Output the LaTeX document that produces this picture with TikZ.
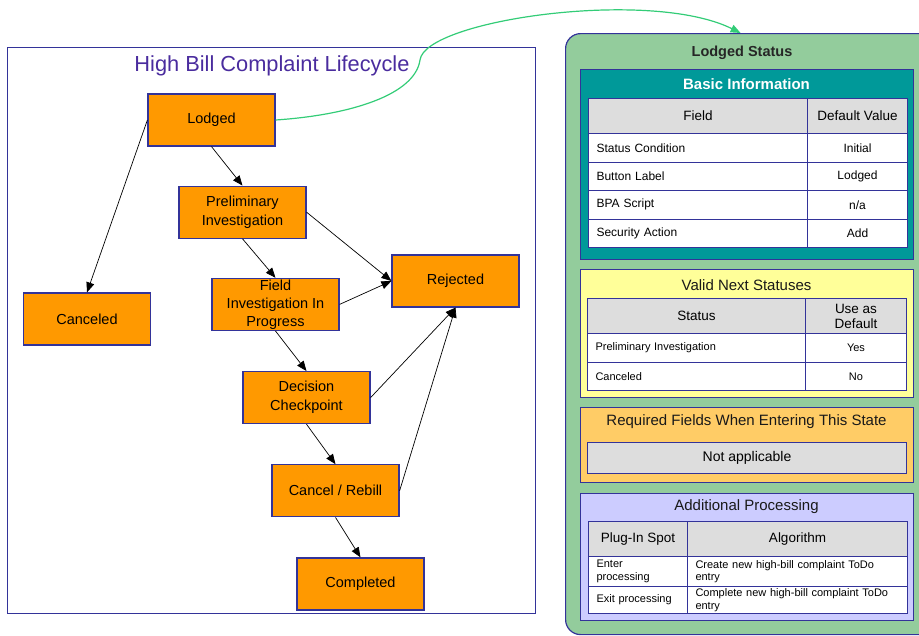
\documentclass[tikz,border=0pt]{standalone}
\usepackage{fontspec}
\setmainfont{Liberation Sans}
\usetikzlibrary{positioning,arrows.meta}

\definecolor{stateorange}{HTML}{FF9900}
\definecolor{navyline}{HTML}{333399}
\definecolor{titleblue}{HTML}{4A2C9E}
\definecolor{panelgreen}{HTML}{93CC9C}
\definecolor{basicteal}{HTML}{009999}
\definecolor{nextyellow}{HTML}{FFFF99}
\definecolor{reqorange}{HTML}{FFCC66}
\definecolor{procblue}{HTML}{CCCCFF}
\definecolor{headgray}{HTML}{DDDDDD}
\definecolor{linkgreen}{HTML}{33CC77}

\newcommand{\fsz}[2]{\fontsize{#1}{#2}\selectfont}

\begin{document}
\begin{tikzpicture}[
		x=1pt, y=-1pt,
		>={Triangle[length=10pt,width=8pt]},
		state/.style={
			draw=navyline,
			line width=1.2pt,
			fill=stateorange,
			minimum width=127pt,
			minimum height=52pt,
			inner sep=0pt,
			align=center,
			font=\fsz{14.5}{19}
		},
		flow/.style={->, line width=0.7pt, black},
		section/.style={draw=navyline, line width=1.2pt, anchor=north west, inner sep=0pt},
		sectitle/.style={font=\fsz{15}{18}, text=black!90},
		hcell/.style={draw=navyline, line width=1pt, fill=headgray, anchor=north west,
			inner sep=0pt, align=center, font=\fsz{13.5}{15}},
		vcell/.style={draw=navyline, line width=1pt, fill=white, anchor=north west,
			inner sep=0pt, align=center, font=\fsz{12}{13}},
		lcell/.style={draw=navyline, line width=1pt, fill=white, anchor=north west,
			inner xsep=8pt, inner ysep=0pt, align=left, font=\fsz{12}{13}, text width=#1}
		]
		
		\useasboundingbox (0,0) rectangle (919,635);
		
		%--------------------------------------------------
		% Lifecycle frame
		%--------------------------------------------------
		
		\node[draw=navyline, line width=1.2pt, anchor=north west, inner sep=0pt,
		minimum width=528pt, minimum height=566pt] (lifecycle) at (7,47) {};
		
		\node[font=\fsz{21.8}{24}, text=titleblue] (title) at (272,66)
		{High Bill Complaint Lifecycle};
		
		%--------------------------------------------------
		% States
		%--------------------------------------------------
		
		\node[state] (lodged) at (211.5,120) {Lodged};
		
		\node[state] (prelim) [below=39pt of lodged, xshift=31pt]
		{Preliminary\\Investigation};
		
		\node[state, font=\fsz{14.5}{18}] (field) [below=39pt of prelim, xshift=33pt]
		{Field\\Investigation In\\Progress};
		
		\node[state] (decision) [below=40pt of field, xshift=31pt]
		{Decision\\Checkpoint};
		
		\node[state] (rebill) [below=40pt of decision, xshift=29pt]
		{Cancel / Rebill};
		
		\node[state] (completed) [below=40pt of rebill, xshift=25pt]
		{Completed};
		
		\node[state] (canceled) at (87,319) {Canceled};
		
		\node[state] (rejected) at (455.5,281) {Rejected};
		
		%--------------------------------------------------
		% Transitions
		%--------------------------------------------------
		
		\draw[flow] (lodged.south) -- (prelim.north);
		\draw[flow] (lodged.west) -- (canceled.north);
		\draw[flow] (prelim.south) -- (field.north);
		\draw[flow] (prelim.east) -- (rejected.west);
		\draw[flow] (field.east) -- (rejected.west);
		\draw[flow] (field.south) -- (decision.north);
		\draw[flow] (decision.east) -- (rejected.south);
		\draw[flow] (decision.south) -- (rebill.north);
		\draw[flow] (rebill.east) -- (rejected.south);
		\draw[flow] (rebill.south) -- (completed.north);
		
		%--------------------------------------------------
		% Status panel
		%--------------------------------------------------
		
		\node[section, fill=panelgreen, rounded corners=15pt,
		minimum width=370pt, minimum height=601pt] (panel) at (565,33) {};
		
		\node[font=\bfseries\fsz{14.5}{17}, text=black!85] (paneltitle) at (742,53)
		{Lodged Status};
		
		% basic information
		\node[section, fill=basicteal, minimum width=333pt, minimum height=190pt]
		(basicbox) at (580,69) {};
		\node[font=\bfseries\fsz{15}{18}, text=white] (basictitle) at (746.5,84)
		{Basic Information};
		
		\node[hcell, minimum width=219pt, minimum height=35pt] (bifield) at (588,98) {Field};
		\node[hcell, minimum width=100pt, minimum height=35pt] (bidefault) at (807,98) {Default Value};
		\node[lcell=203pt, minimum height=28.5pt] (bicond) at (588,133) {Status Condition};
		\node[vcell, minimum width=100pt, minimum height=28.5pt] (bicondval) at (807,133) {Initial};
		\node[lcell=203pt, minimum height=28.5pt] (bibutton) at (588,161.5) {Button Label};
		\node[vcell, minimum width=100pt, minimum height=28.5pt] (bibuttonval) at (807,161.5) {Lodged};
		\node[lcell=203pt, minimum height=28.5pt] (biscript) at (588,190) {BPA Script};
		\node[vcell, minimum width=100pt, minimum height=28.5pt] (biscriptval) at (807,190) {n/a};
		\node[lcell=203pt, minimum height=28.5pt] (biaction) at (588,218.5) {Security Action};
		\node[vcell, minimum width=100pt, minimum height=28.5pt] (biactionval) at (807,218.5) {Add};
		
		% valid next statuses
		\node[section, fill=nextyellow, minimum width=333pt, minimum height=128pt]
		(nextbox) at (580,269) {};
		\node[sectitle] (nexttitle) at (746.5,285) {Valid Next Statuses};
		
		\node[hcell, minimum width=218pt, minimum height=35pt] (vnstatus) at (587,298) {Status};
		\node[hcell, minimum width=101pt, minimum height=35pt] (vndefault) at (805,298) {Use as\\Default};
		\node[lcell=202pt, minimum height=29pt, font=\fsz{11}{12}] (vnprelim) at (587,333)
		{Preliminary Investigation};
		\node[vcell, minimum width=101pt, minimum height=29pt, font=\fsz{11}{12}] (vnprelimval) at (805,333) {Yes};
		\node[lcell=202pt, minimum height=28pt, font=\fsz{11}{12}] (vncanceled) at (587,362) {Canceled};
		\node[vcell, minimum width=101pt, minimum height=28pt, font=\fsz{11}{12}] (vncanceledval) at (805,362) {No};
		
		% required fields
		\node[section, fill=reqorange, minimum width=333pt, minimum height=75pt]
		(reqbox) at (580,407) {};
		\node[sectitle] (reqtitle) at (746.5,422) {Required Fields When Entering This State};
		\node[hcell, minimum width=319pt, minimum height=31pt, font=\fsz{14}{16}] (reqcell) at (587,442)
		{Not applicable};
		
		% additional processing
		\node[section, fill=procblue, minimum width=333pt, minimum height=127pt]
		(procbox) at (580,493) {};
		\node[sectitle] (proctitle) at (746.5,507) {Additional Processing};
		
		\node[hcell, minimum width=99pt, minimum height=35pt] (apspot) at (588,521) {Plug-In Spot};
		\node[hcell, minimum width=220pt, minimum height=35pt] (apalgo) at (687,521) {Algorithm};
		\node[lcell=83pt, minimum height=30pt, font=\fsz{11}{12.5}] (apenter) at (588,556)
		{Enter\\processing};
		\node[lcell=204pt, minimum height=30pt, font=\fsz{11}{12.5}] (apenteralgo) at (687,556)
		{Create new high-bill complaint ToDo\\entry};
		\node[lcell=83pt, minimum height=27pt, font=\fsz{11}{12.5}] (apexit) at (588,586)
		{Exit processing};
		\node[lcell=204pt, minimum height=27pt, font=\fsz{11}{12.5}] (apexitalgo) at (687,586)
		{Complete new high-bill complaint ToDo\\entry};
		
		%--------------------------------------------------
		% Link to status panel
		%--------------------------------------------------
		
		\draw[->, linkgreen, line width=1.2pt]
		(lodged.east) .. controls (350,115) and (415,95) .. (420,60)
		.. controls (425,20) and (650,-12) .. ([xshift=-10pt]panel.north);
		
	\end{tikzpicture}
\end{document}
